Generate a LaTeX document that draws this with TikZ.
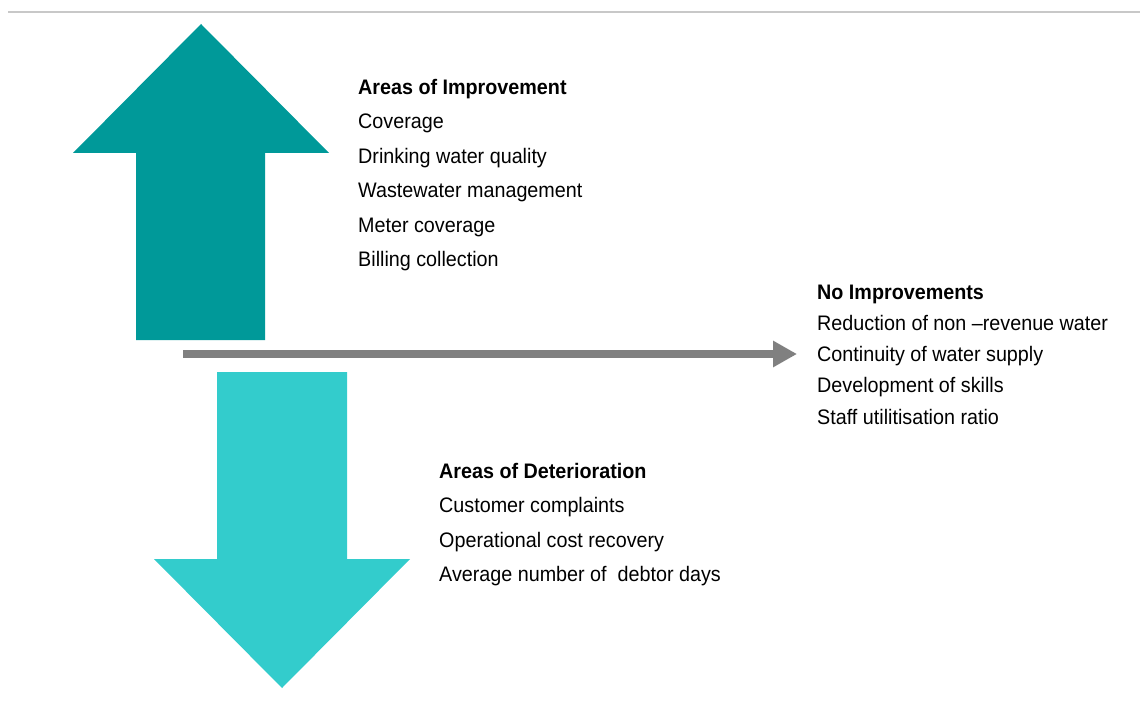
\documentclass[tikz,border=0pt]{standalone}
\usepackage{fontspec}
\setmainfont{Liberation Sans}[FakeStretch=0.94]
\usetikzlibrary{arrows.meta}
\definecolor{upteal}{HTML}{009999}
\definecolor{downteal}{HTML}{33CCCC}
\definecolor{midgray}{HTML}{808080}
\definecolor{rulegray}{HTML}{C8C8C8}
\begin{document}
\begin{tikzpicture}[x=1pt,y=-1pt,
  itemtext/.style={anchor=base west, inner sep=0pt, font=\fontsize{21}{25}\selectfont},
  headtext/.style={itemtext, font=\fontsize{21}{25}\selectfont\bfseries}]
\useasboundingbox (0,0) rectangle (1140,711);
% top rule
\draw[rulegray, line width=2.5pt] (8,12) -- (1140,12);
% upward arrow
\fill[upteal] (201,24) -- (329,153) -- (265,153) -- (265,340) -- (136,340)
  -- (136,153) -- (73,153) -- cycle;
% downward arrow
\fill[downteal] (282,688) -- (410,559) -- (347,559) -- (347,372) -- (217,372)
  -- (217,559) -- (154,559) -- cycle;
% horizontal arrow
\coordinate (g0) at (183,354);
\coordinate (g1) at (797,354);
\draw[midgray, line width=8pt, -{Triangle[length=24pt,width=25pt]}] (g0) -- (g1);
% improvement list
\node[headtext] (imp0) at (358,94.5) {Areas of Improvement};
\node[itemtext] (imp1) at (358,129) {Coverage};
\node[itemtext] (imp2) at (358,163.5) {Drinking water quality};
\node[itemtext] (imp3) at (358,198) {Wastewater management};
\node[itemtext] (imp4) at (358,232.5) {Meter coverage};
\node[itemtext] (imp5) at (358,267) {Billing collection};
% no-improvement list
\node[headtext] (non0) at (817,299) {No Improvements};
\node[itemtext] (non1) at (817,330.5) {Reduction of non –revenue water};
\node[itemtext] (non2) at (817,361.5) {Continuity of water supply};
\node[itemtext] (non3) at (817,392.5) {Development of skills};
\node[itemtext] (non4) at (817,424) {Staff utilitisation ratio};
% deterioration list
\node[headtext] (det0) at (439,478) {Areas of Deterioration};
\node[itemtext] (det1) at (439,512.5) {Customer complaints};
\node[itemtext] (det2) at (439,547) {Operational cost recovery};
\node[itemtext] (det3) at (439,581.5) {Average number of\ \ debtor days};
\end{tikzpicture}
\end{document}
